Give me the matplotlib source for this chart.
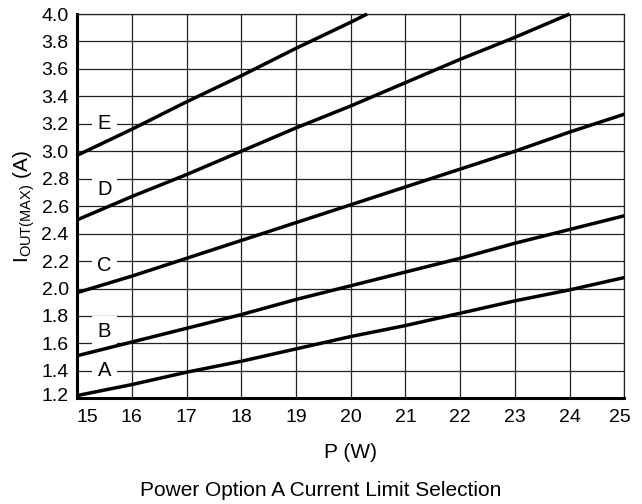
import matplotlib
matplotlib.use("Agg")
import matplotlib.pyplot as plt
from matplotlib.transforms import ScaledTranslation

plt.rcParams['font.family'] = ['Liberation Sans', 'DejaVu Sans']

power = [15, 16, 17, 18, 19, 20, 21, 22, 23, 24, 25]
curve_a = [1.22, 1.30, 1.39, 1.47, 1.56, 1.65, 1.73, 1.82, 1.91, 1.99, 2.08]
curve_b = [1.51, 1.61, 1.71, 1.81, 1.92, 2.02, 2.12, 2.22, 2.33, 2.43, 2.53]
curve_c = [1.97, 2.09, 2.22, 2.35, 2.48, 2.61, 2.74, 2.87, 3.00, 3.14, 3.27]
power_d = [15, 16, 17, 18, 19, 20, 21, 22, 23, 24]
curve_d = [2.50, 2.67, 2.83, 3.00, 3.17, 3.33, 3.50, 3.67, 3.83, 4.00]
power_e = [15, 16, 17, 18, 19, 20, 20.3]
curve_e = [2.97, 3.16, 3.36, 3.55, 3.75, 3.94, 4.00]

labels = ['A', 'B', 'C', 'D', 'E']
label_pos = [(15.5, 1.40), (15.5, 1.69), (15.5, 2.17), (15.5, 2.72), (15.5, 3.20)]

xticks = list(range(15, 26))
yticks = [1.2, 1.4, 1.6, 1.8, 2.0, 2.2, 2.4, 2.6, 2.8, 3.0, 3.2, 3.4, 3.6, 3.8, 4.0]

fig = plt.figure(figsize=(6.42, 5.04), dpi=100)
ax = fig.add_axes([0.12, 0.2097, 0.8525, 0.7625])

for xs, ys in [(power, curve_a), (power, curve_b), (power, curve_c),
               (power_d, curve_d), (power_e, curve_e)]:
    ax.plot(xs, ys, color='black', lw=2.5, solid_capstyle='butt',
            solid_joinstyle='round', zorder=3, clip_on=False)

for lab, (px, py) in zip(labels, label_pos):
    ax.text(px, py, lab, fontsize=14.5, ha='center', va='center', zorder=2,
            bbox=dict(facecolor='white', edgecolor='none', pad=4))

ax.set_xlim(15, 25)
ax.set_ylim(1.2, 4.0)
ax.set_xticks(xticks)
ax.set_yticks(yticks)
ax.set_yticklabels([f"{v:.1f}" for v in yticks])
ax.grid(True, color='#222222', lw=0.9, zorder=1)
ax.set_axisbelow(True)
ax.tick_params(length=0, labelsize=14, colors='black')
ax.tick_params(axis='x', pad=8)
ax.tick_params(axis='y', pad=6)

for side in ['top', 'right']:
    ax.spines[side].set_linewidth(0.9)
    ax.spines[side].set_color('#222222')
for side in ['left', 'bottom']:
    ax.spines[side].set_linewidth(2.2)
    ax.spines[side].set_color('black')

ax.set_xlabel('P (W)', fontsize=15, labelpad=12)
ax.set_ylabel(r'I$_{\mathregular{OUT(MAX)}}$ (A)', fontsize=15, labelpad=3)

fig.canvas.draw()
xl = ax.get_xticklabels()
xl[0].set_transform(xl[0].get_transform() + ScaledTranslation(10.5/100, 0, fig.dpi_scale_trans))
xl[-1].set_transform(xl[-1].get_transform() + ScaledTranslation(-4.3/100, 0, fig.dpi_scale_trans))
yl = ax.get_yticklabels()
yl[0].set_transform(yl[0].get_transform() + ScaledTranslation(0, 4/100, fig.dpi_scale_trans))

fig.text(0.5, 1 - 490/504, 'Power Option A Current Limit Selection', ha='center', va='center', fontsize=15)

fig.savefig('out.png', dpi=100)
